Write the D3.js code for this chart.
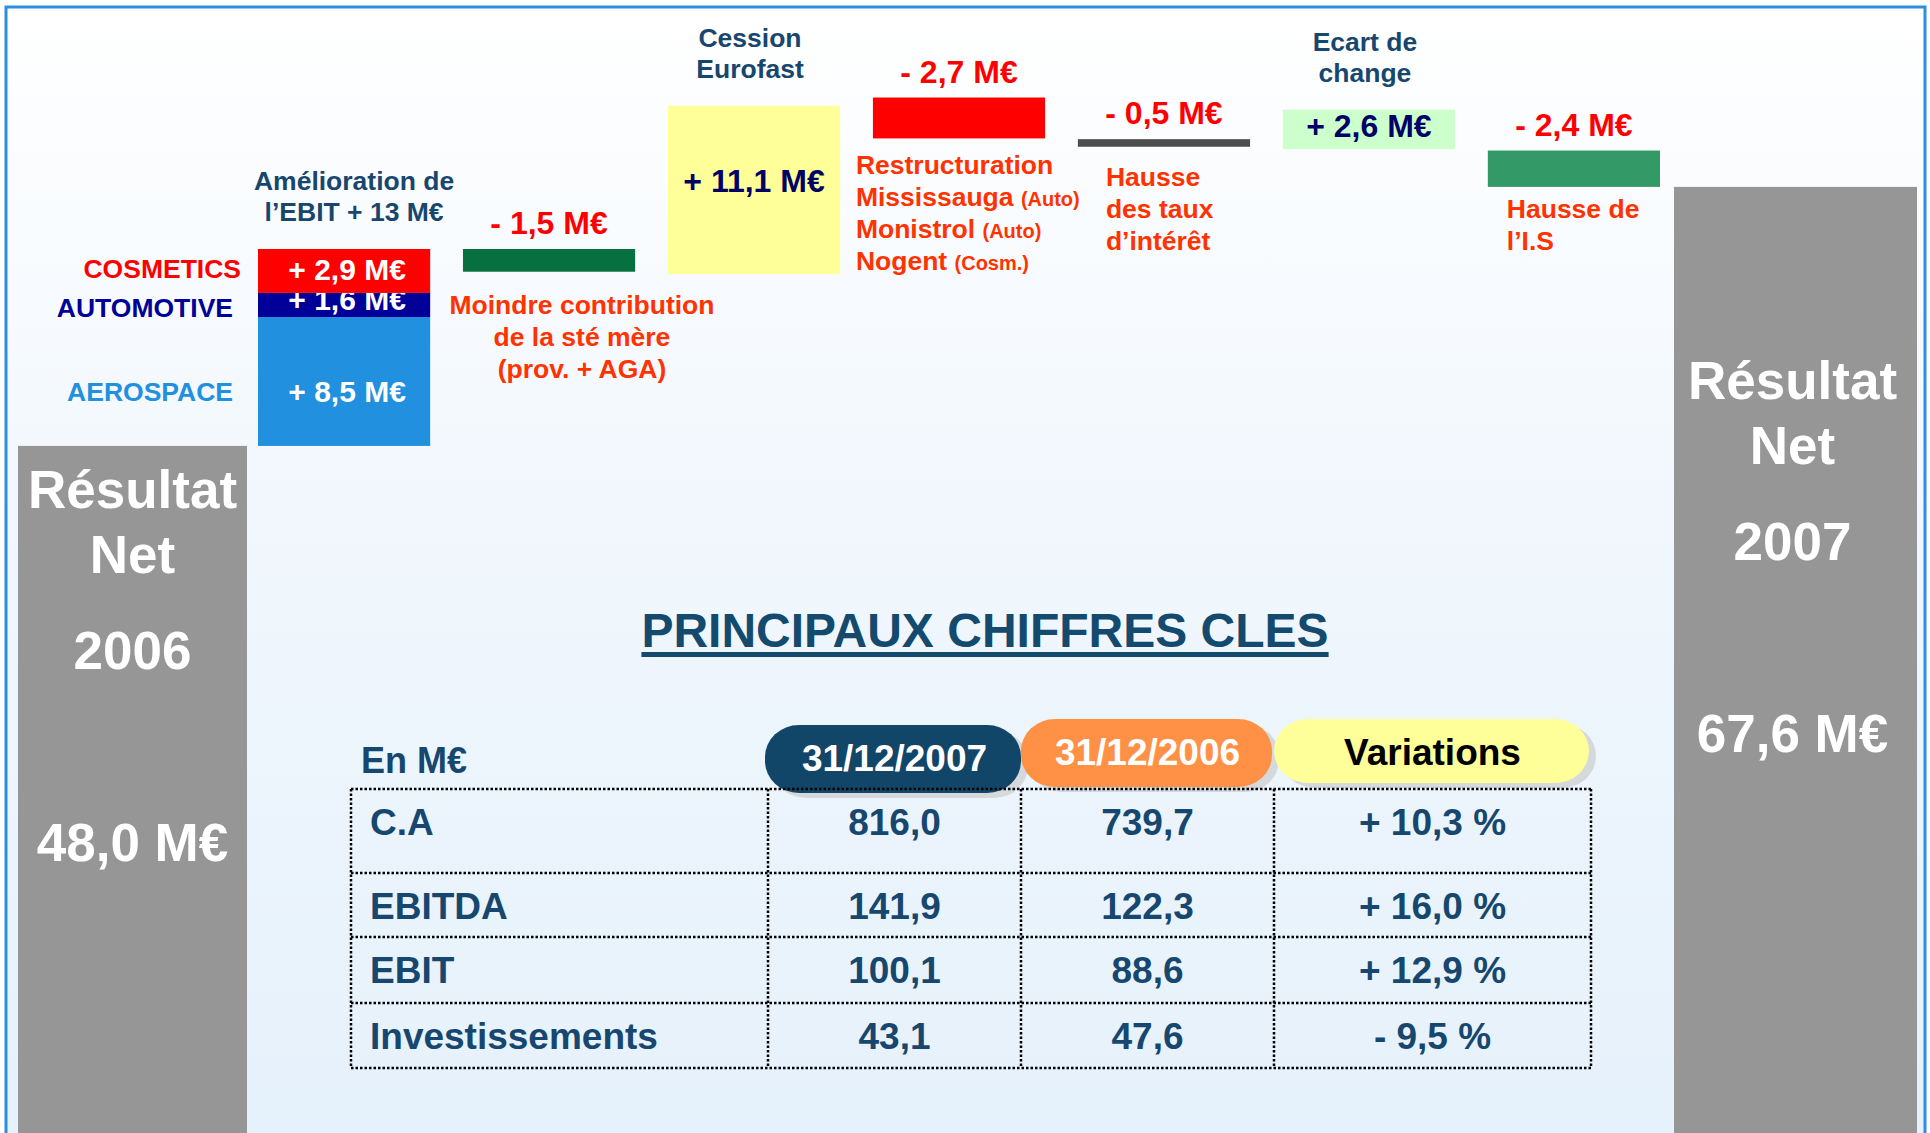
<!DOCTYPE html>
<html>
<head>
<meta charset="utf-8">
<script src="https://cdnjs.cloudflare.com/ajax/libs/d3/7.8.5/d3.min.js"></script>
<style>
    body { margin: 0; background: #ffffff; }
    svg text { font-family: "Liberation Sans", Arial, sans-serif; font-weight: bold; }
</style>
</head>
<body>
<div class="chart1"></div>
<script>
// net result bridge 2006 -> 2007, values in M€
var netYears = ["2006", "2007"];
var netValues = [48.0, 67.6];

// EBIT improvement split by division (bottom to top)
var divisions = ["AEROSPACE", "AUTOMOTIVE", "COSMETICS"];
var divisionValues = [8.5, 1.6, 2.9];
var divisionColors = ["#2190df", "#000099", "#ff0000"];

// bridge steps
var steps = ["ebit", "mere", "eurofast", "restructuration", "taux", "change", "is"];
var stepValues = [13.0, -1.5, 11.1, -2.7, -0.5, 2.6, -2.4];
// level each step starts from, as drawn on the slide
var stepBases = [48.0, 61.0, 59.35, 71.0, 68.25, 67.6, 67.5];
var stepColors = [null, "#067040", "#ffff99", "#ff0000", "#4d4d4d", "#ccffcc", "#339966"];
var stepTitles = [["Amélioration de", "l’EBIT + 13 M€"], [], ["Cession", "Eurofast"], [], [], ["Ecart de", "change"], []];
var stepNotes = [
    [],
    ["Moindre contribution", "de la sté mère", "(prov. + AGA)"],
    [],
    ["Restructuration", "Mississauga (Auto)", "Monistrol (Auto)", "Nogent (Cosm.)"],
    ["Hausse", "des taux", "d’intérêt"],
    [],
    ["Hausse de", "l’I.S"]
];

// key figures table
var tableTitle = "PRINCIPAUX CHIFFRES CLES";
var tableUnit = "En M€";
var tableCols = ["31/12/2007", "31/12/2006", "Variations"];
var tableRows = ["C.A", "EBITDA", "EBIT", "Investissements"];
var values2007 = [816.0, 141.9, 100.1, 43.1];
var values2006 = [739.7, 122.3, 88.6, 47.6];
var variations = [10.3, 16.0, 12.9, -9.5];

var W = 1930, H = 1133;
var darkBlue = "#17476e", orange = "#ff3300";

var fr = d3.formatLocale({ decimal: ",", thousands: " ", grouping: [3], currency: ["", " €"] });
var f1 = fr.format(".1f");
function signed(v) { return (v < 0 ? "- " : "+ ") + f1(Math.abs(v)); }

var svg = d3.select(".chart1").append("svg")
    .attr("width", W)
    .attr("height", H);

// background panel
var defs = svg.append("defs");
var grad = defs.append("linearGradient").attr("id", "bg").attr("x1", 0).attr("y1", 0).attr("x2", 0).attr("y2", 1);
grad.append("stop").attr("offset", "0%").attr("stop-color", "#ffffff");
grad.append("stop").attr("offset", "45%").attr("stop-color", "#f1f7fd");
grad.append("stop").attr("offset", "100%").attr("stop-color", "#e5f1fb");

svg.append("rect").attr("x", 6).attr("y", 7).attr("width", 1919).attr("height", H).attr("fill", "url(#bg)");
svg.append("path")
    .attr("d", "M6," + H + "V7H1925V" + H)
    .attr("fill", "none")
    .attr("stroke", "#2b8fe0")
    .attr("stroke-width", 3);

// scales
var y = d3.scaleLinear()
    .domain([0, 61])
    .range([1173, 249]);

var x = d3.scaleBand()
    .domain(steps)
    .range([258, 1660])
    .paddingInner(0.16)
    .paddingOuter(0);

var bw = x.bandwidth();

// net result bars (2006 left, 2007 right)
var netX = [18, 1674], netW = [229, 243], netTextTop = [508, 399];
var lastTop = stepBases[stepBases.length - 1] + stepValues[stepValues.length - 1];
var netLevels = [netValues[0], lastTop];

netYears.forEach(function (yr, i) {
    svg.append("rect")
        .attr("x", netX[i])
        .attr("y", y(netLevels[i]))
        .attr("width", netW[i])
        .attr("height", y(0) - y(netLevels[i]))
        .attr("fill", "#969696");
    var cx = netX[i] + netW[i] / 2 + (i === 0 ? 0 : -3);
    var lines = ["Résultat", "Net", yr, f1(netValues[i]) + " M€"];
    var offs = [0, 65, 161, 353];
    lines.forEach(function (t, j) {
        svg.append("text")
            .attr("x", cx)
            .attr("y", netTextTop[i] + offs[j])
            .attr("text-anchor", "middle")
            .attr("fill", "#ffffff")
            .style("font-size", "53px")
            .text(t);
    });
});

// stacked EBIT bar
var stackRow = {};
divisions.forEach(function (d, i) { stackRow[d] = divisionValues[i]; });
var stacked = d3.stack().keys(divisions)([stackRow]);
var base0 = stepBases[0];
var segLabelDy = [20, 5, 9];
var nameDx = [-25, -25, -17];
var nameDy = [19, 12, 7];

stacked.forEach(function (s, i) {
    var lo = base0 + s[0][0], hi = base0 + s[0][1];
    svg.append("rect")
        .attr("x", x("ebit"))
        .attr("y", y(hi))
        .attr("width", bw)
        .attr("height", y(lo) - y(hi))
        .attr("fill", divisionColors[i]);
    var mid = (y(lo) + y(hi)) / 2;
    svg.append("text")
        .attr("x", x("ebit") + bw / 2 + 3)
        .attr("y", mid + segLabelDy[i])
        .attr("text-anchor", "middle")
        .attr("fill", "#ffffff")
        .style("font-size", "30px")
        .text(signed(divisionValues[i]) + " M€");
    svg.append("text")
        .attr("x", x("ebit") + nameDx[i])
        .attr("y", mid + nameDy[i])
        .attr("text-anchor", "end")
        .attr("fill", divisionColors[i])
        .style("font-size", "26.5px")
        .text(divisions[i]);
});

// other bridge steps
var noteAnchor = [null, "middle", null, "start", "start", null, "start"];
var noteDx = [0, 119, 0, -17, 28, 0, 19];
var noteDy = [0, 42, 0, 36, 39, 0, 31];
var innerDy = [0, 0, 2, 0, 0, 8, 0];

steps.forEach(function (s, i) {
    var lo = Math.min(stepBases[i], stepBases[i] + stepValues[i]);
    var hi = Math.max(stepBases[i], stepBases[i] + stepValues[i]);
    var x0 = x(s), top = y(hi), bot = y(lo);

    if (i > 0) {
        svg.append("rect")
            .attr("class", "bar")
            .attr("x", x0)
            .attr("y", top)
            .attr("width", bw)
            .attr("height", bot - top)
            .attr("fill", stepColors[i]);

        var pos = stepValues[i] > 0;
        svg.append("text")
            .attr("x", x0 + bw / 2)
            .attr("y", pos ? (top + bot) / 2 + innerDy[i] : top - 15)
            .attr("text-anchor", "middle")
            .attr("fill", pos ? "#000066" : "#ff0000")
            .style("font-size", "32px")
            .text(signed(stepValues[i]) + " M€");
    }

    // titles above the bar
    var tl = stepTitles[i];
    tl.forEach(function (t, j) {
        svg.append("text")
            .attr("x", x0 + bw / 2 + (i === 0 ? 10 : -4))
            .attr("y", top - 28 - (tl.length - 1 - j) * 31)
            .attr("text-anchor", "middle")
            .attr("fill", darkBlue)
            .style("font-size", "26.5px")
            .text(t);
    });

    // notes below the bar
    stepNotes[i].forEach(function (t, j) {
        var txt = svg.append("text")
            .attr("x", x0 + noteDx[i])
            .attr("y", bot + noteDy[i] + j * 32)
            .attr("text-anchor", noteAnchor[i])
            .attr("fill", orange)
            .style("font-size", "26.5px");
        var k = t.indexOf(" (");
        if (k > 0) {
            txt.append("tspan").text(t.slice(0, k) + " ");
            txt.append("tspan").style("font-size", "20px").text(t.slice(k + 1));
        } else {
            txt.text(t);
        }
    });
});

// key figures table
var title = svg.append("text")
    .attr("x", 985)
    .attr("y", 647)
    .attr("text-anchor", "middle")
    .attr("fill", "#134a6e")
    .style("font-size", "48px")
    .text(tableTitle);
var tb = title.node().getBBox();
svg.append("rect")
    .attr("x", tb.x)
    .attr("y", 652)
    .attr("width", tb.width)
    .attr("height", 5)
    .attr("fill", "#134a6e");

var colX = [351, 768, 1021, 1274, 1591];
var rowY = [789, 873, 937, 1003, 1068];
var pillFill = ["#124669", "#ff9147", "#ffff99"];
var pillText = ["#ffffff", "#ffffff", "#000000"];

svg.append("text")
    .attr("x", 361)
    .attr("y", 773)
    .attr("fill", darkBlue)
    .style("font-size", "36px")
    .text(tableUnit);

tableCols.forEach(function (c, i) {
    var px = colX[i + 1] - (i === 0 ? 3 : 0), pw = colX[i + 2] - colX[i + 1] + (i === 0 ? 3 : -2);
    var py = i === 0 ? 725 : 719, ph = i === 2 ? 64 : 68;
    svg.append("rect")
        .attr("x", px + 7).attr("y", py + 5)
        .attr("width", pw).attr("height", ph)
        .attr("rx", 34).attr("ry", 32)
        .attr("fill", "#d6d9dc");
    svg.append("rect")
        .attr("x", px).attr("y", py)
        .attr("width", pw).attr("height", ph)
        .attr("rx", 34).attr("ry", 32)
        .attr("fill", pillFill[i]);
    svg.append("text")
        .attr("x", (colX[i + 1] + colX[i + 2]) / 2)
        .attr("y", py + 46)
        .attr("text-anchor", "middle")
        .attr("fill", pillText[i])
        .style("font-size", "37px")
        .text(c);
});

// dotted grid
var grid = svg.append("g")
    .attr("stroke", "#000000")
    .attr("stroke-width", 2.5)
    .attr("stroke-dasharray", "2.5,2");
rowY.forEach(function (ry) {
    grid.append("line").attr("x1", colX[0]).attr("x2", colX[4]).attr("y1", ry).attr("y2", ry);
});
colX.forEach(function (cx) {
    grid.append("line").attr("x1", cx).attr("x2", cx).attr("y1", rowY[0]).attr("y2", rowY[4]);
});

tableRows.forEach(function (r, i) {
    var by = rowY[i] + 46;
    var cells = [f1(values2007[i]), f1(values2006[i]), signed(variations[i]) + " %"];
    svg.append("text")
        .attr("x", 370)
        .attr("y", by)
        .attr("fill", darkBlue)
        .style("font-size", "37px")
        .text(r);
    cells.forEach(function (t, j) {
        svg.append("text")
            .attr("x", (colX[j + 1] + colX[j + 2]) / 2)
            .attr("y", by)
            .attr("text-anchor", "middle")
            .attr("fill", darkBlue)
            .style("font-size", "37px")
            .text(t);
    });
});
</script>
</body>
</html>
